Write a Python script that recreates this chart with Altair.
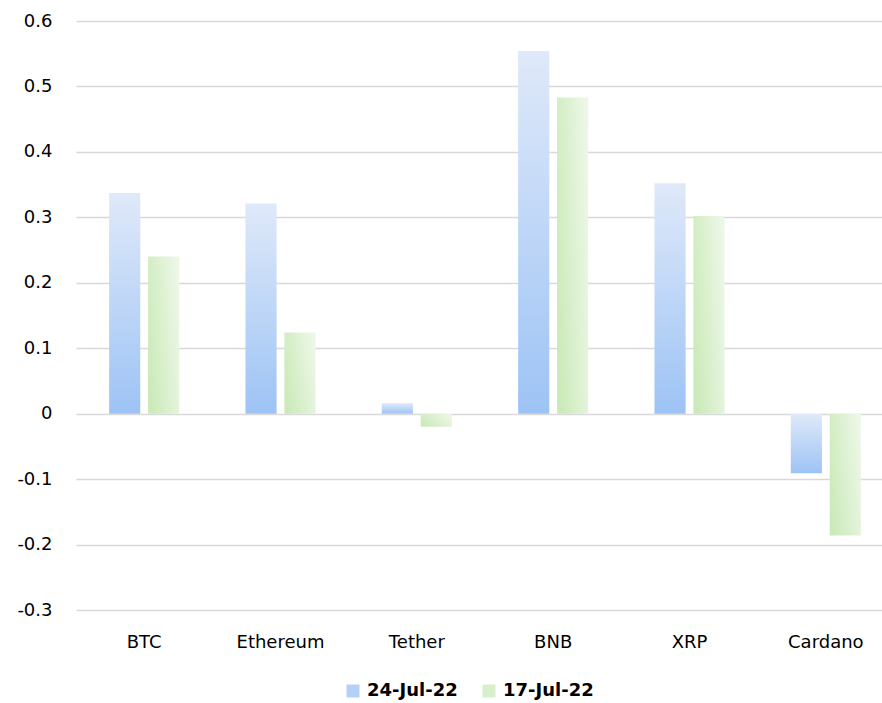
import altair as alt
import pandas as pd

categories = ["BTC", "Ethereum", "Tether", "BNB", "XRP", "Cardano"]
series_names = ["24-Jul-22", "17-Jul-22"]
jul24 = [0.337, 0.321, 0.016, 0.554, 0.352, -0.091]
jul17 = [0.240, 0.124, -0.020, 0.483, 0.302, -0.186]
y_ticks = [-0.3, -0.2, -0.1, 0, 0.1, 0.2, 0.3, 0.4, 0.5, 0.6]

rows = []
for c, a, b in zip(categories, jul24, jul17):
    rows.append({"category": c, "series": series_names[0], "value": a})
    rows.append({"category": c, "series": series_names[1], "value": b})
df = pd.DataFrame(rows)

FONT = "DejaVu Sans"

x_enc = alt.X(
    "category:N",
    sort=categories,
    scale=alt.Scale(range=[0, 818], paddingInner=0.486, paddingOuter=0.243),
    axis=alt.Axis(title=None, labelAngle=0, ticks=False, domain=False, grid=False,
                  labelPadding=23, labelFontSize=18, labelFont=FONT, labelColor="black"),
)
y_enc = alt.Y(
    "value:Q",
    scale=alt.Scale(domain=[-0.3, 0.6], nice=False, zero=False),
    axis=alt.Axis(values=y_ticks, title=None, ticks=False, domain=False,
                  labelPadding=24, labelFontSize=18, labelFont=FONT, labelColor="black",
                  labelExpr="'' + datum.value",
                  gridColor="#d9d9d9", gridWidth=1.5),
)
xoff = alt.XOffset("series:N", sort=series_names,
                   scale=alt.Scale(domain=series_names, paddingInner=0.2))

blue_grad = alt.LinearGradient(
    gradient="linear",
    stops=[alt.GradientStop(offset=0, color="#dfe9f9"),
           alt.GradientStop(offset=1, color="#9dc3f5")],
    x1=0, x2=0, y1=0, y2=1,
)
green_grad = alt.LinearGradient(
    gradient="linear",
    stops=[alt.GradientStop(offset=0, color="#cbeab9"),
           alt.GradientStop(offset=1, color="#ecf7e6")],
    x1=0, y1=0.7, x2=1, y2=0.3,
)

base = alt.Chart(df)

legend_layer = base.mark_bar(opacity=0).encode(
    x=x_enc, y=y_enc, xOffset=xoff,
    color=alt.Color("series:N", sort=series_names,
                    scale=alt.Scale(domain=series_names, range=["#b4d0f7", "#d8efcc"]),
                    legend=alt.Legend(orient="none", legendX=268, legendY=661,
                                      direction="horizontal", title=None,
                                      symbolType="square", symbolSize=169,
                                      symbolOpacity=1, symbolStrokeWidth=0,
                                      labelFont=FONT, labelFontWeight="bold",
                                      labelFontSize=18, labelColor="black",
                                      columnPadding=22, labelOffset=5)),
)

blue_layer = base.transform_filter(
    alt.datum.series == series_names[0]
).mark_bar(color=blue_grad).encode(x=x_enc, y=y_enc, xOffset=xoff)

green_layer = base.transform_filter(
    alt.datum.series == series_names[1]
).mark_bar(color=green_grad).encode(x=x_enc, y=y_enc, xOffset=xoff)

chart = alt.layer(legend_layer, blue_layer, green_layer).properties(
    width=806, height=589,
    autosize=alt.AutoSizeParams(type="none"),
    padding={"left": 76, "top": 21, "right": 0, "bottom": 93},
    background="white",
).configure_view(stroke=None)

chart.save("out.html", embed_options={"renderer": "svg", "actions": False})
